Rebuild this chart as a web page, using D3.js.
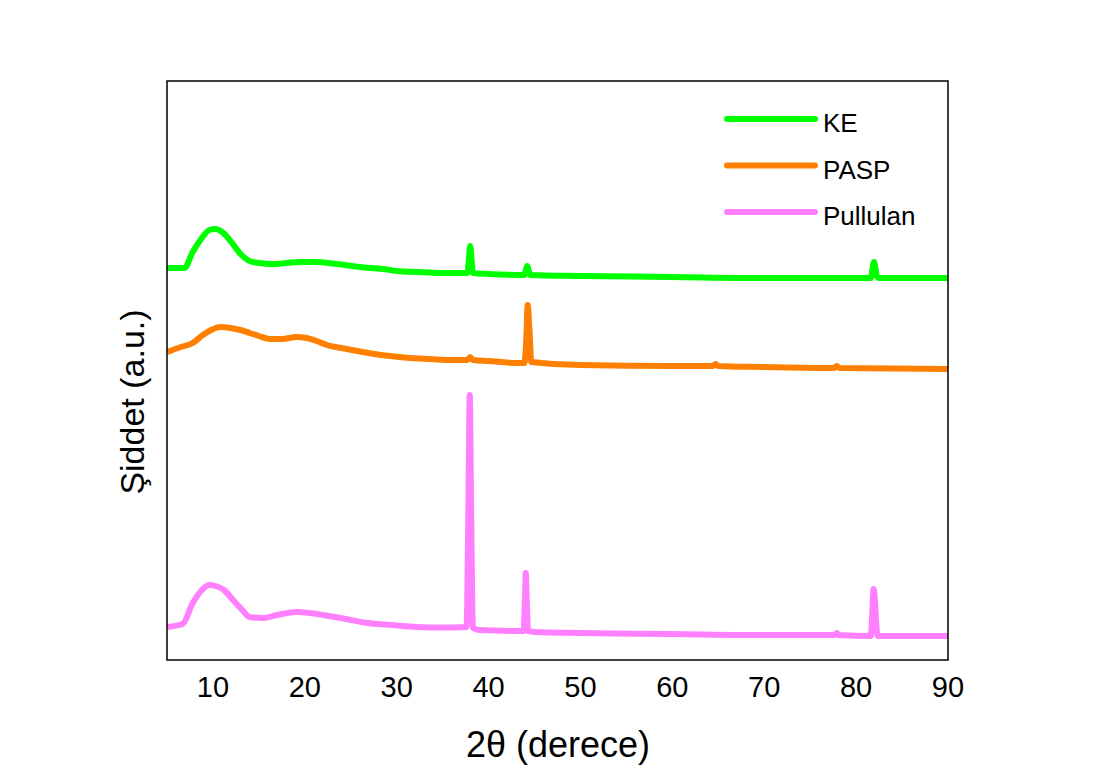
<!DOCTYPE html>
<html>
<head>
<meta charset="utf-8">
<script src="https://cdn.jsdelivr.net/npm/d3@7"></script>
<style>
  body { margin: 0; background: #fff; }
  text { font-family: Arial, "Liberation Sans", sans-serif; fill: #000; }
</style>
</head>
<body>
<svg width="1101" height="769"></svg>
<script>
// XRD patterns, intensity in arbitrary units
var keAngle = [5, 6.9, 7.8, 8.8, 9.6, 10.3, 11, 12, 13, 14, 15, 16.5, 18, 19.5, 21, 23.5, 26, 28.5, 30, 32.2, 35.8,
  37.7, 37.85, 38, 38.15, 38.3, 40, 43.9, 44.05, 44.2, 44.35, 44.5, 50, 60, 70, 80, 81.6, 81.8, 81.95, 82.1, 82.25, 82.5, 90];
var keValue = [392, 392, 408, 422, 430, 431, 428, 418, 406, 399, 397, 396, 397, 398, 398, 396, 393, 391, 389, 388, 387,
  387, 400, 414, 400, 387, 386, 385, 390, 394, 390, 385, 384, 383, 382, 382, 382, 392, 398, 392, 384, 382, 382];

var paspAngle = [5, 6.5, 7.8, 8.9, 9.8, 10.8, 11.9, 13, 14, 15, 16.2, 17.5, 19.1, 20.2, 21.3, 22.4, 24, 25.7, 27.5, 29.3,
  31.5, 33.6, 36, 37.7, 38, 38.3, 40, 43, 43.9, 44.1, 44.25, 44.45, 44.65, 50, 60, 64.4, 64.7, 65, 70, 77.6, 77.9, 78.2, 90];
var paspValue = [308, 313, 317, 325, 330, 333, 332, 330, 327, 324, 321, 321, 323, 322, 319, 315, 312, 309, 306, 304,
  302, 301, 300, 300, 303, 300, 299, 297, 297, 320, 355, 330, 298, 295, 294, 294, 296, 294, 293, 292, 294, 292, 291];

var pullAngle = [5, 6.7, 7.8, 8.8, 9.6, 10.3, 11.2, 12.2, 13.2, 14, 15.4, 17, 19.1, 20.5, 22, 24.5, 26.8, 29.5, 32.2, 35,
  37.6, 37.8, 37.95, 38.1, 38.3, 39, 43.8, 43.95, 44.05, 44.15, 44.3, 45, 50, 60, 70, 77.7, 77.9, 78.1,
  81.6, 81.75, 81.9, 82.05, 82.2, 82.35, 90];
var pullValue = [33, 36, 57, 70, 75, 74, 70, 60, 50, 43, 42, 45, 48, 47, 45, 41, 37, 35, 33, 32.5,
  33, 150, 265, 150, 32, 30, 29, 60, 87, 60, 29, 28, 27, 26, 25, 25, 27, 25,
  24, 45, 71, 60, 35, 24, 24];

var seriesNames = ["KE", "PASP", "Pullulan"];
var seriesColors = ["#00ff00", "#ff8000", "#ff80ff"];
var xTicks = [10, 20, 30, 40, 50, 60, 70, 80, 90];

var series = [
  { name: seriesNames[0], color: seriesColors[0], angle: keAngle, value: keValue },
  { name: seriesNames[1], color: seriesColors[1], angle: paspAngle, value: paspValue },
  { name: seriesNames[2], color: seriesColors[2], angle: pullAngle, value: pullValue }
];

var svg = d3.select("svg");
var plotL = 167, plotR = 948, plotT = 81, plotB = 660;

var x = d3.scaleLinear().domain([5, 90]).range([plotL, plotR]);
var y = d3.scaleLinear().domain([0, 579]).range([plotB, plotT]);

var line = d3.line()
  .curve(d3.curveMonotoneX)
  .x(function(d) { return x(d[0]); })
  .y(function(d) { return y(d[1]); });

svg.selectAll(".trace")
  .data(series)
  .enter().append("path")
    .attr("class", "trace")
    .attr("fill", "none")
    .attr("stroke", function(d) { return d.color; })
    .attr("stroke-width", 6)
    .attr("stroke-linejoin", "round")
    .attr("d", function(d) { return line(d3.zip(d.angle, d.value)); });

// frame
svg.append("rect")
  .attr("x", plotL).attr("y", plotT)
  .attr("width", plotR - plotL).attr("height", plotB - plotT)
  .attr("fill", "none").attr("stroke", "#000").attr("stroke-width", 1.5);

// x tick labels (no tick marks in the original)
svg.selectAll(".xtick")
  .data(xTicks)
  .enter().append("text")
    .attr("class", "xtick")
    .attr("x", function(d) { return x(d); })
    .attr("y", 697)
    .attr("text-anchor", "middle")
    .style("font-size", "29px")
    .text(function(d) { return d; });

svg.append("text")
  .attr("x", 558).attr("y", 757)
  .attr("text-anchor", "middle")
  .style("font-size", "36px")
  .text("2θ (derece)");

svg.append("text")
  .attr("transform", "translate(144,402) rotate(-90)")
  .attr("text-anchor", "middle")
  .style("font-size", "34px")
  .text("Şiddet (a.u.)");

// legend
var legend = svg.selectAll(".legend")
  .data(series)
  .enter().append("g")
    .attr("class", "legend")
    .attr("transform", function(d, i) { return "translate(727," + (119 + i * 46.5) + ")"; });

legend.append("line")
  .attr("x1", 0).attr("x2", 88)
  .attr("stroke", function(d) { return d.color; })
  .attr("stroke-width", 6)
  .attr("stroke-linecap", "round");

legend.append("text")
  .attr("x", 96).attr("y", 13)
  .style("font-size", "26px")
  .text(function(d) { return d.name; });
</script>
</body>
</html>
